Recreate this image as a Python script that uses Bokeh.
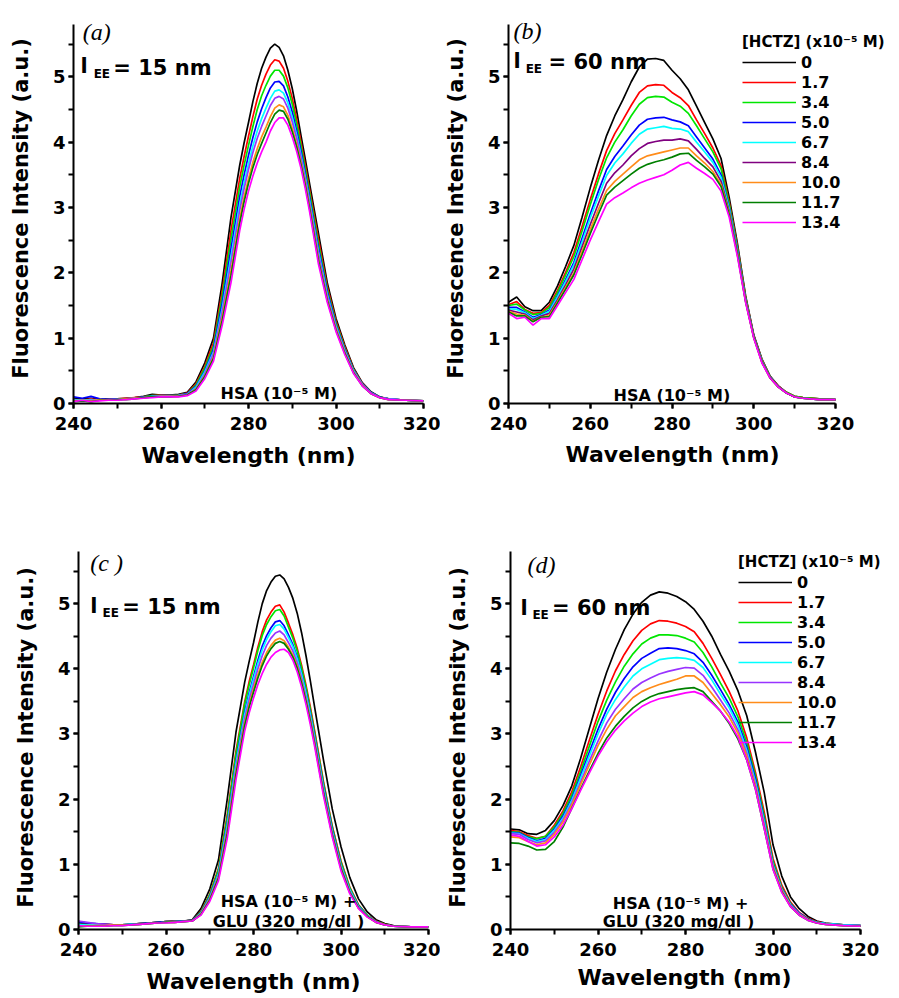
from bokeh.plotting import figure
from bokeh.layouts import column, row
from bokeh.models import Range1d, SingleIntervalTicker, Label, Legend, LegendItem, Title
from bokeh.embed import file_html
from bokeh.resources import INLINE

# ---------------- data ----------------
# wavelength grid for panels (a) and (c) (finer near the peak)
wl_ac = [240, 242, 244, 246, 248, 250, 252, 254, 256, 258, 260, 262, 264, 266,
         268, 270, 272, 274, 276, 278, 279, 280, 281, 282, 283, 284, 285, 286, 287, 288,
         289, 290, 291, 292, 293, 294, 296, 298, 300, 302, 304, 306, 308, 310, 312, 316, 320]
# wavelength grid for panels (b) and (d)
wl_bd = [240, 242, 244, 246, 248, 250, 252, 254, 256, 258, 260, 262, 264, 266,
         268, 270, 272, 274, 276, 278, 280, 282, 284, 286, 288, 290, 292, 294,
         296, 298, 300, 302, 304, 306, 308, 310, 312, 316, 320]

hctz_conc = ["0", "1.7", "3.4", "5.0", "6.7", "8.4", "10.0", "11.7", "13.4"]

# (a) HSA, lambda_EE = 15 nm
a_0 = [.08, .07, .08, .06, .07, .07, .08, .09, .11, .14, .13, .13, .14, .17, .33, .62, 1.0, 1.85, 2.85, 3.65,
       3.99, 4.3, 4.62, 4.9, 5.13, 5.3, 5.44, 5.5, 5.45, 5.32, 5.1, 4.82, 4.48, 4.1, 3.73, 3.35,
       2.6, 1.85, 1.3, .9, .55, .32, .18, .1, .07, .05, .04]
a_1 = [.06, .05, .07, .05, .06, .07, .08, .09, .10, .12, .13, .12, .13, .16, .30, .57, .93, 1.72, 2.65, 3.45,
       3.78, 4.09, 4.39, 4.66, 4.87, 5.04, 5.18, 5.26, 5.24, 5.13, 4.93, 4.67, 4.35, 4.0, 3.64, 3.26,
       2.51, 1.79, 1.26, .87, .53, .31, .17, .1, .07, .05, .04]
a_2 = [.05, .06, .05, .06, .05, .06, .07, .08, .10, .12, .12, .12, .13, .15, .28, .54, .88, 1.64, 2.52, 3.32,
       3.65, 3.95, 4.24, 4.5, 4.71, 4.87, 5.01, 5.1, 5.10, 5.01, 4.83, 4.58, 4.28, 3.94, 3.58, 3.21,
       2.44, 1.75, 1.23, .85, .52, .3, .17, .1, .07, .05, .04]
a_3 = [.10, .08, .11, .07, .06, .07, .07, .08, .10, .11, .12, .12, .12, .15, .26, .5, .83, 1.54, 2.37, 3.17,
       3.50, 3.8, 4.07, 4.31, 4.51, 4.68, 4.83, 4.92, 4.93, 4.86, 4.69, 4.46, 4.18, 3.86, 3.51, 3.14,
       2.37, 1.71, 1.2, .83, .51, .3, .17, .1, .07, .05, .04]
a_4 = [.06, .05, .06, .05, .06, .06, .07, .08, .09, .11, .11, .11, .12, .14, .25, .48, .79, 1.46, 2.25, 3.05,
       3.38, 3.67, 3.94, 4.17, 4.36, 4.52, 4.67, 4.78, 4.80, 4.75, 4.60, 4.38, 4.11, 3.8, 3.46, 3.09,
       2.32, 1.67, 1.18, .81, .5, .29, .16, .09, .07, .05, .04]
a_5 = [.05, .04, .05, .05, .06, .06, .07, .08, .09, .10, .11, .11, .12, .14, .23, .45, .76, 1.4, 2.16, 2.96,
       3.29, 3.58, 3.84, 4.06, 4.24, 4.4, 4.56, 4.67, 4.70, 4.66, 4.52, 4.31, 4.06, 3.76, 3.42, 3.05,
       2.28, 1.64, 1.16, .8, .49, .29, .16, .09, .07, .05, .04]
a_6 = [.04, .05, .04, .06, .05, .06, .07, .08, .09, .10, .11, .11, .11, .13, .22, .42, .71, 1.32, 2.03, 2.83,
       3.16, 3.44, 3.69, 3.9, 4.08, 4.23, 4.39, 4.52, 4.57, 4.54, 4.41, 4.21, 3.97, 3.69, 3.36, 3.0,
       2.21, 1.6, 1.14, .78, .48, .28, .15, .09, .06, .05, .04]
a_7 = [.03, .04, .03, .05, .05, .06, .06, .07, .09, .10, .10, .10, .11, .13, .21, .41, .69, 1.27, 1.96, 2.76,
       3.09, 3.37, 3.61, 3.81, 3.98, 4.14, 4.30, 4.43, 4.49, 4.47, 4.35, 4.16, 3.93, 3.65, 3.33, 2.97,
       2.18, 1.58, 1.12, .77, .47, .27, .15, .09, .06, .05, .04]
a_8 = [.03, .05, .03, .04, .05, .05, .06, .07, .08, .09, .10, .10, .10, .12, .19, .38, .65, 1.2, 1.85, 2.65,
       2.97, 3.25, 3.48, 3.68, 3.85, 4.0, 4.17, 4.3, 4.37, 4.37, 4.26, 4.08, 3.86, 3.6, 3.28, 2.92,
       2.13, 1.55, 1.1, .75, .46, .27, .15, .09, .06, .05, .04]

# (b) HSA, lambda_EE = 60 nm
b_0 = [1.55, 1.63, 1.48, 1.42, 1.42, 1.55, 1.8, 2.1, 2.42, 2.85, 3.3, 3.72, 4.1, 4.4, 4.65, 4.92, 5.15, 5.27, 5.28, 5.25,
       5.1, 4.97, 4.8, 4.55, 4.3, 4.05, 3.75, 3.15, 2.45, 1.65, 1.05, .68, .42, .27, .17, .11, .09, .07, .06]
b_1 = [1.51, 1.56, 1.44, 1.38, 1.39, 1.5, 1.73, 2.01, 2.31, 2.71, 3.12, 3.51, 3.87, 4.13, 4.34, 4.56, 4.76, 4.86, 4.88, 4.87,
       4.76, 4.68, 4.56, 4.34, 4.13, 3.91, 3.64, 3.08, 2.41, 1.63, 1.04, .67, .41, .27, .17, .11, .09, .07, .06]
b_2 = [1.50, 1.52, 1.43, 1.36, 1.38, 1.47, 1.7, 1.97, 2.25, 2.64, 3.04, 3.42, 3.76, 4.0, 4.19, 4.4, 4.58, 4.68, 4.7, 4.69,
       4.61, 4.55, 4.44, 4.25, 4.05, 3.85, 3.59, 3.05, 2.39, 1.62, 1.03, .66, .41, .26, .17, .11, .09, .07, .06]
b_3 = [1.47, 1.47, 1.4, 1.32, 1.36, 1.43, 1.65, 1.9, 2.16, 2.53, 2.9, 3.25, 3.58, 3.78, 3.94, 4.11, 4.26, 4.35, 4.37, 4.38,
       4.34, 4.31, 4.25, 4.08, 3.91, 3.74, 3.5, 3.0, 2.35, 1.6, 1.03, .65, .4, .26, .16, .1, .08, .06, .06]
b_4 = [1.45, 1.44, 1.39, 1.3, 1.35, 1.41, 1.63, 1.87, 2.12, 2.47, 2.84, 3.17, 3.49, 3.68, 3.82, 3.98, 4.12, 4.2, 4.22, 4.24,
       4.21, 4.2, 4.16, 4.0, 3.85, 3.69, 3.46, 2.98, 2.33, 1.59, 1.02, .65, .4, .26, .16, .1, .08, .06, .06]
b_5 = [1.43, 1.4, 1.37, 1.28, 1.34, 1.38, 1.59, 1.82, 2.06, 2.4, 2.74, 3.06, 3.37, 3.53, 3.65, 3.79, 3.9, 3.98, 4.01, 4.03,
       4.03, 4.05, 4.02, 3.89, 3.75, 3.62, 3.4, 2.94, 2.31, 1.58, 1.02, .64, .4, .26, .16, .1, .08, .06, .06]
b_6 = [1.41, 1.37, 1.35, 1.26, 1.32, 1.35, 1.56, 1.78, 2.0, 2.33, 2.66, 2.97, 3.26, 3.4, 3.51, 3.62, 3.73, 3.79, 3.82, 3.85,
       3.88, 3.91, 3.91, 3.79, 3.68, 3.55, 3.35, 2.91, 2.29, 1.57, 1.01, .63, .39, .25, .16, .1, .08, .06, .06]
b_7 = [1.4, 1.34, 1.34, 1.25, 1.32, 1.33, 1.54, 1.75, 1.97, 2.28, 2.6, 2.9, 3.19, 3.31, 3.41, 3.51, 3.6, 3.66, 3.7, 3.73,
       3.77, 3.82, 3.83, 3.72, 3.62, 3.51, 3.32, 2.89, 2.28, 1.56, 1.01, .63, .39, .25, .16, .1, .08, .06, .06]
b_8 = [1.38, 1.3, 1.32, 1.2, 1.3, 1.3, 1.5, 1.7, 1.9, 2.2, 2.5, 2.78, 3.05, 3.15, 3.22, 3.3, 3.37, 3.42, 3.46, 3.5,
       3.57, 3.65, 3.69, 3.6, 3.52, 3.43, 3.25, 2.85, 2.25, 1.55, 1.0, .62, .39, .25, .16, .1, .08, .06, .06]

# (c) HSA + GLU, lambda_EE = 15 nm
c_0 = [.1, .09, .08, .08, .07, .07, .08, .09, .1, .11, .12, .13, .13, .15, .32, .62, 1.07, 2.0, 3.03, 3.8,
       4.11, 4.4, 4.72, 5.0, 5.20, 5.33, 5.42, 5.44, 5.38, 5.25, 5.08, 4.85, 4.55, 4.2, 3.81, 3.4,
       2.6, 1.85, 1.27, .8, .47, .27, .15, .09, .06, .04, .04]
c_1 = [.07, .08, .07, .08, .07, .07, .08, .09, .1, .11, .12, .13, .13, .14, .28, .54, .94, 1.76, 2.74, 3.5,
       3.80, 4.06, 4.33, 4.57, 4.75, 4.87, 4.96, 4.98, 4.87, 4.7, 4.52, 4.31, 4.05, 3.75, 3.41, 3.04,
       2.27, 1.59, 1.05, .65, .38, .22, .13, .08, .05, .04, .04]
c_2 = [.06, .07, .06, .07, .07, .07, .08, .09, .1, .11, .12, .12, .13, .14, .27, .53, .92, 1.72, 2.69, 3.46,
       3.75, 4.01, 4.28, 4.51, 4.68, 4.8, 4.89, 4.91, 4.81, 4.64, 4.47, 4.27, 4.01, 3.71, 3.37, 3.01,
       2.24, 1.57, 1.03, .64, .37, .22, .12, .08, .05, .04, .04]
c_3 = [.12, .1, .09, .08, .07, .07, .08, .09, .1, .11, .12, .12, .13, .14, .26, .5, .87, 1.63, 2.58, 3.34,
       3.63, 3.88, 4.13, 4.35, 4.51, 4.63, 4.72, 4.74, 4.66, 4.52, 4.37, 4.18, 3.93, 3.64, 3.31, 2.95,
       2.19, 1.53, .99, .61, .36, .21, .12, .07, .05, .04, .04]
c_4 = [.08, .07, .07, .07, .07, .07, .08, .08, .09, .1, .11, .12, .12, .13, .25, .49, .86, 1.6, 2.55, 3.3,
       3.59, 3.84, 4.08, 4.29, 4.45, 4.57, 4.66, 4.68, 4.61, 4.48, 4.34, 4.15, 3.91, 3.62, 3.29, 2.93,
       2.17, 1.51, .98, .61, .35, .21, .12, .07, .05, .04, .04]
c_5 = [.13, .11, .09, .08, .07, .07, .07, .08, .09, .1, .11, .11, .12, .13, .245, .48, .83, 1.55, 2.48, 3.24,
       3.52, 3.76, 4.0, 4.2, 4.36, 4.47, 4.55, 4.58, 4.52, 4.4, 4.27, 4.09, 3.85, 3.56, 3.24, 2.89,
       2.13, 1.48, .96, .59, .34, .2, .12, .07, .05, .04, .04]
c_6 = [.05, .06, .06, .06, .07, .07, .07, .08, .09, .1, .11, .11, .12, .13, .24, .46, .8, 1.5, 2.42, 3.17,
       3.45, 3.69, 3.91, 4.1, 4.25, 4.36, 4.44, 4.47, 4.43, 4.33, 4.21, 4.04, 3.80, 3.52, 3.21, 2.86,
       2.1, 1.46, .94, .57, .33, .2, .11, .07, .05, .04, .04]
c_7 = [.04, .05, .05, .05, .06, .06, .07, .08, .09, .1, .11, .11, .12, .13, .23, .45, .79, 1.47, 2.38, 3.13,
       3.41, 3.64, 3.86, 4.05, 4.20, 4.31, 4.39, 4.42, 4.39, 4.3, 4.18, 4.01, 3.78, 3.5, 3.19, 2.84,
       2.09, 1.45, .93, .57, .33, .2, .11, .07, .05, .04, .04]
c_8 = [.06, .05, .05, .05, .06, .06, .07, .08, .09, .1, .1, .11, .12, .13, .22, .43, .75, 1.4, 2.3, 3.05,
       3.32, 3.55, 3.76, 3.93, 4.07, 4.18, 4.25, 4.29, 4.30, 4.25, 4.13, 3.95, 3.72, 3.45, 3.14, 2.8,
       2.05, 1.42, .9, .55, .32, .19, .11, .07, .05, .04, .04]

# (d) HSA + GLU, lambda_EE = 60 nm
d_0 = [1.54, 1.53, 1.47, 1.46, 1.52, 1.67, 1.9, 2.2, 2.62, 3.08, 3.54, 3.95, 4.3, 4.6, 4.84, 5.02, 5.13, 5.18, 5.16, 5.11,
       5.03, 4.91, 4.73, 4.5, 4.22, 3.96, 3.66, 3.28, 2.72, 2.1, 1.3, .82, .5, .32, .2, .13, .1, .07, .06]
d_1 = [1.52, 1.5, 1.44, 1.40, 1.43, 1.6, 1.82, 2.11, 2.49, 2.9, 3.3, 3.66, 3.97, 4.22, 4.43, 4.59, 4.69, 4.74, 4.73, 4.7,
       4.65, 4.57, 4.39, 4.16, 3.91, 3.65, 3.35, 2.94, 2.41, 1.8, 1.09, .68, .42, .26, .17, .12, .09, .07, .06]
d_2 = [1.5, 1.49, 1.42, 1.39, 1.43, 1.57, 1.78, 2.06, 2.42, 2.81, 3.19, 3.52, 3.8, 4.04, 4.23, 4.38, 4.47, 4.52, 4.52, 4.51,
       4.47, 4.41, 4.25, 4.03, 3.78, 3.55, 3.26, 2.87, 2.36, 1.74, 1.05, .65, .4, .25, .16, .11, .09, .07, .06]
d_3 = [1.49, 1.48, 1.41, 1.36, 1.4, 1.54, 1.74, 2.01, 2.36, 2.72, 3.07, 3.38, 3.64, 3.85, 4.03, 4.16, 4.24, 4.31, 4.32, 4.31,
       4.28, 4.23, 4.1, 3.9, 3.68, 3.45, 3.18, 2.8, 2.31, 1.68, 1.01, .63, .39, .25, .16, .11, .09, .07, .06]
d_4 = [1.48, 1.47, 1.4, 1.35, 1.38, 1.52, 1.71, 1.98, 2.32, 2.66, 3.0, 3.3, 3.53, 3.72, 3.89, 4.0, 4.07, 4.14, 4.16, 4.17,
       4.16, 4.13, 4.02, 3.83, 3.61, 3.4, 3.13, 2.75, 2.26, 1.65, .99, .62, .38, .24, .15, .11, .09, .07, .06]
d_5 = [1.47, 1.46, 1.38, 1.33, 1.36, 1.49, 1.68, 1.94, 2.26, 2.58, 2.89, 3.17, 3.38, 3.54, 3.69, 3.79, 3.86, 3.92, 3.96, 3.99,
       4.02, 4.01, 3.9, 3.72, 3.52, 3.32, 3.06, 2.7, 2.22, 1.61, .97, .61, .37, .24, .15, .1, .08, .06, .06]
d_6 = [1.42, 1.41, 1.35, 1.3, 1.33, 1.46, 1.65, 1.91, 2.22, 2.52, 2.82, 3.07, 3.28, 3.42, 3.56, 3.65, 3.71, 3.76, 3.8, 3.84,
       3.89, 3.89, 3.79, 3.62, 3.45, 3.26, 3.01, 2.66, 2.19, 1.58, .96, .6, .36, .23, .15, .1, .08, .06, .05]
d_7 = [1.33, 1.32, 1.28, 1.22, 1.23, 1.35, 1.57, 1.86, 2.15, 2.43, 2.7, 2.94, 3.12, 3.27, 3.4, 3.5, 3.57, 3.62, 3.65, 3.68,
       3.7, 3.71, 3.65, 3.5, 3.35, 3.16, 2.92, 2.6, 2.15, 1.55, .93, .58, .35, .22, .14, .1, .08, .06, .05]
d_8 = [1.45, 1.43, 1.35, 1.28, 1.3, 1.42, 1.6, 1.85, 2.13, 2.4, 2.66, 2.88, 3.06, 3.2, 3.32, 3.42, 3.49, 3.54, 3.57, 3.6,
       3.63, 3.65, 3.6, 3.48, 3.35, 3.18, 2.95, 2.6, 2.15, 1.55, .92, .57, .35, .22, .14, .1, .08, .06, .05]

# ---------------- style ----------------
SANS = "DejaVu Sans"
SERIF = "Liberation Serif"
colors_violet = ["#000000", "#ff0000", "#00e600", "#0000ff", "#00ffff",
                 "#9933ff", "#ff8c1a", "#008000", "#ff00ff"]
colors_plum = ["#000000", "#ff0000", "#00e600", "#0000ff", "#00ffff",
               "#800080", "#ff8c1a", "#008000", "#ff00ff"]
LEGEND_TITLE = "[HCTZ] (x10\u207b\u2075 M)"
X_LABEL = "Wavelength (nm)"
Y_LABEL = "Fluorescence Intensity (a.u.)"

X_LO, X_HI = 240, 320
Y_LO, Y_HI = 0, 5.8
FRAME_H = 379


def make_panel(width, height, bl, bt, axis_w, extra_right=0, extra_top=0,
               xlabel_offset=None, xlabel_standoff=12):
    frame_w = axis_w + extra_right
    frame_h = FRAME_H + extra_top
    x_end = X_LO + (X_HI - X_LO) * frame_w / axis_w
    y_end = Y_LO + (Y_HI - Y_LO) * frame_h / FRAME_H
    br = width - bl - frame_w
    bb = height - bt - frame_h
    p = figure(width=width, height=height,
               x_range=Range1d(X_LO, x_end), y_range=Range1d(Y_LO, y_end),
               output_backend="svg", toolbar_location=None,
               min_border_left=bl, min_border_right=br,
               min_border_top=bt, min_border_bottom=bb)
    p.outline_line_color = None
    p.xgrid.visible = False
    p.ygrid.visible = False
    p.xaxis.ticker = SingleIntervalTicker(interval=20, num_minor_ticks=2)
    p.yaxis.ticker = SingleIntervalTicker(interval=1, num_minor_ticks=2)
    p.xaxis.bounds = (X_LO, X_HI)
    p.yaxis.bounds = (Y_LO, Y_HI)
    for ax in (p.xaxis[0], p.yaxis[0]):
        ax.axis_line_width = 2
        ax.major_tick_line_width = 2
        ax.minor_tick_line_width = 2
        ax.major_tick_in = 0
        ax.minor_tick_in = 0
        ax.major_tick_out = 5
        ax.minor_tick_out = 5
        ax.major_label_text_font = SANS
        ax.major_label_text_font_style = "bold"
        ax.major_label_text_font_size = "18px"
        ax.major_label_text_color = "black"
        ax.axis_label_text_font = SANS
        ax.axis_label_text_font_style = "bold"
        ax.axis_label_text_color = "black"
    p.xaxis.major_label_standoff = 8
    p.yaxis.major_label_standoff = 3
    if xlabel_offset is None:
        p.xaxis.axis_label = X_LABEL
        p.xaxis.axis_label_text_font_size = "22px"
        p.xaxis.axis_label_standoff = 10
    else:
        p.add_layout(Title(text=X_LABEL, align="left", offset=xlabel_offset,
                           text_font=SANS, text_font_size="22px", text_font_style="bold",
                           text_color="black", vertical_align="top",
                           standoff=xlabel_standoff), "below")
    p.yaxis.axis_label = Y_LABEL
    p.yaxis.axis_label_text_font_size = "21px"
    p.yaxis.axis_label_standoff = 17
    return p


def add_text(p, x, y, text, size, font=SANS, style="bold", align="left"):
    p.add_layout(Label(x=x, y=y, text=text, text_font=font, text_font_size=size,
                       text_font_style=style, text_align=align,
                       text_baseline="alphabetic", text_color="black"))


def draw_series(p, xs, series, colors):
    renderers = []
    for ys, c in zip(series, colors):
        renderers.append(p.line(xs, ys, line_color=c, line_width=1.7))
    return renderers


def add_legend(p, renderers, loc):
    items = [LegendItem(label=lab, renderers=[r]) for lab, r in zip(hctz_conc, renderers)]
    leg = Legend(items=items, location=loc, title=LEGEND_TITLE,
                 title_text_font=SANS, title_text_font_size="15px",
                 title_text_font_style="bold", title_text_color="black", title_standoff=1,
                 label_text_font=SANS, label_text_font_size="16px",
                 label_text_font_style="bold", label_text_color="black",
                 glyph_width=54, glyph_height=20, label_height=20,
                 label_standoff=5, spacing=0, padding=0, margin=0,
                 border_line_color=None, background_fill_alpha=0)
    p.add_layout(leg)


# ---------------- panels ----------------
pa = make_panel(440, 530, 73, 13, 350, extra_top=11)
draw_series(pa, wl_ac, [a_0, a_1, a_2, a_3, a_4, a_5, a_6, a_7, a_8], colors_violet)
add_text(pa, 242.1, 5.69, "(a)", "24px", font=SERIF, style="italic")
add_text(pa, 241.6, 5.17, "l", "21px")
add_text(pa, 244.6, 5.05, "EE", "12px")
add_text(pa, 249.1, 5.14, "= 15 nm", "21px")
add_text(pa, 273.6, 0.15, "HSA (10\u207b\u2075 M)", "16px")

pb = make_panel(458, 530, 68, 13, 327, extra_right=390 - 327, extra_top=11,
                xlabel_offset=57, xlabel_standoff=18)
rb = draw_series(pb, wl_bd, [b_0, b_1, b_2, b_3, b_4, b_5, b_6, b_7, b_8], colors_plum)
add_text(pb, 241.2, 5.70, "(b)", "24px", font=SERIF, style="italic")
add_text(pb, 241.2, 5.24, "l", "21px")
add_text(pb, 244.2, 5.12, "EE", "12px")
add_text(pb, 249.8, 5.22, "= 60 nm", "21px")
add_text(pb, 265.7, 0.12, "HSA (10\u207b\u2075 M)", "16px")
add_legend(pb, rb, (234, 171))

pc = make_panel(440, 467, 78, 15, 350, extra_top=6)
draw_series(pc, wl_ac, [c_0, c_1, c_2, c_3, c_4, c_5, c_6, c_7, c_8], colors_violet)
add_text(pc, 242.7, 5.62, "(c )", "24px", font=SERIF, style="italic")
add_text(pc, 242.7, 4.96, "l", "21px")
add_text(pc, 245.5, 4.85, "EE", "12px")
add_text(pc, 250.0, 4.95, "= 15 nm", "21px")
add_text(pc, 288.0, 0.43, "HSA (10\u207b\u2075 M) +", "16px", align="center")
add_text(pc, 288.0, 0.12, "GLU (320 mg/dl )", "16px", align="center")

pd = make_panel(458, 467, 70, 15, 350, extra_right=388 - 350, extra_top=6,
                xlabel_offset=67, xlabel_standoff=12)
rd = draw_series(pd, wl_bd, [d_0, d_1, d_2, d_3, d_4, d_5, d_6, d_7, d_8], colors_violet)
add_text(pd, 243.9, 5.59, "(d)", "24px", font=SERIF, style="italic")
add_text(pd, 242.3, 4.94, "l", "21px")
add_text(pd, 245.0, 4.83, "EE", "12px")
add_text(pd, 249.5, 4.93, "= 60 nm", "21px")
add_text(pd, 278.9, 0.40, "HSA (10\u207b\u2075 M) +", "16px", align="center")
add_text(pd, 278.4, 0.12, "GLU (320 mg/dl )", "16px", align="center")
add_legend(pd, rd, (228, 177))

layout = column(row(pa, pb), row(pc, pd))

with open("out.html", "w") as f:
    f.write(file_html(layout, INLINE))
